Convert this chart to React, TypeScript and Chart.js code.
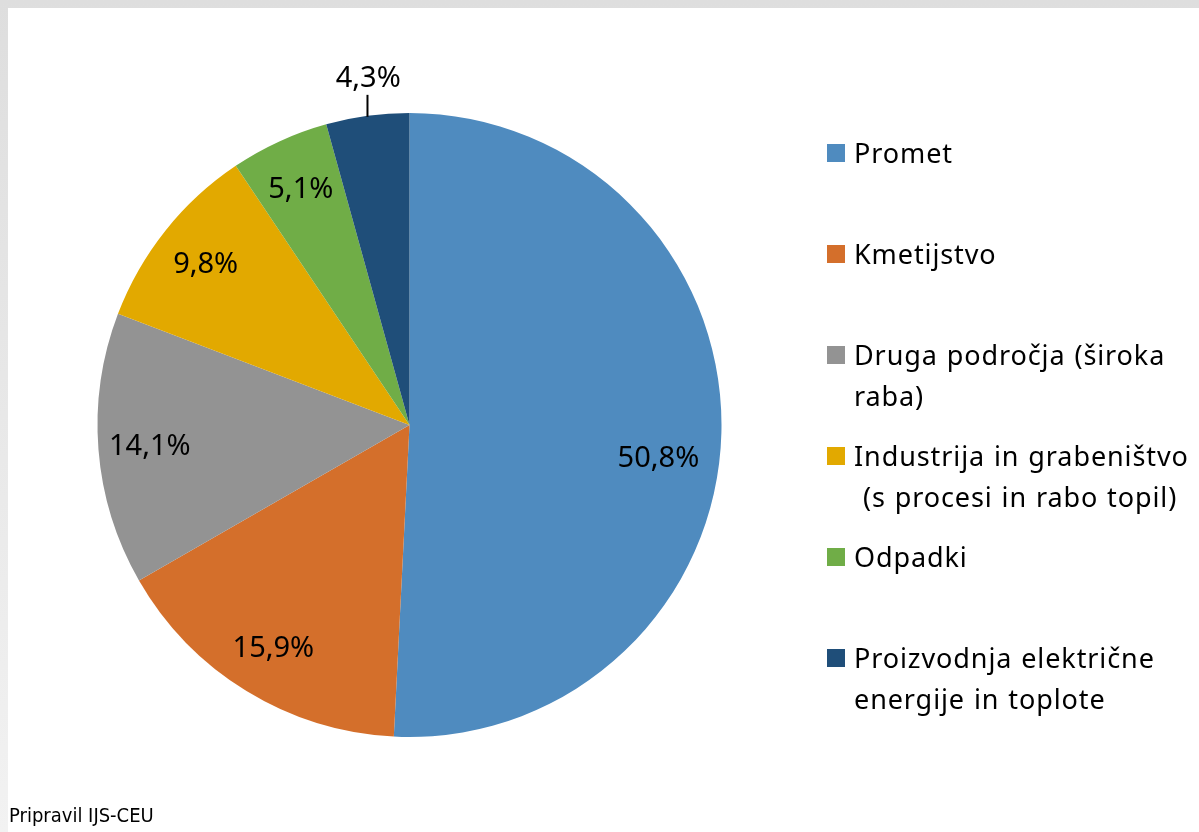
import React, { useEffect, useRef } from "react";
import { Chart, registerables } from "chart.js";

Chart.register(...registerables);

const categories = [
  "Promet",
  "Kmetijstvo",
  "Druga področja (široka raba)",
  "Industrija in grabeništvo (s procesi in rabo topil)",
  "Odpadki",
  "Proizvodnja električne energije in toplote",
];
const legendLines = [
  ["Promet"],
  ["Kmetijstvo"],
  ["Druga področja (široka", "raba)"],
  ["Industrija in grabeništvo", " (s procesi in rabo topil)"],
  ["Odpadki"],
  ["Proizvodnja električne", "energije in toplote"],
];
const values = [50.8, 15.9, 14.1, 9.8, 5.1, 4.3];
const colors = ["#4f8bbf", "#d46f2b", "#939393", "#e2a900", "#70ad47", "#1f4e79"];
const footer = "Pripravil IJS-CEU";

const fmt = (v: number) => v.toFixed(1).replace(".", ",") + "%";

const labelPlugin = {
  id: "pieLabels",
  afterDatasetsDraw(chart: any) {
    const meta = chart.getDatasetMeta(0);
    const ctx = chart.ctx;
    ctx.save();
    ctx.font = "29px 'Noto Sans'";
    ctx.fillStyle = "#000";
    ctx.textAlign = "center";
    ctx.textBaseline = "alphabetic";
    const n = meta.data.length;
    meta.data.forEach((arc: any, i: number) => {
      const p = arc.getProps(["x", "y", "startAngle", "endAngle", "outerRadius"], true);
      const mid = (p.startAngle + p.endAngle) / 2;
      const outside = i === n - 1;
      const f = outside ? 1.125 : 0.835;
      let lx = p.x + Math.cos(mid) * p.outerRadius * f;
      let ly = p.y + Math.sin(mid) * p.outerRadius * f;
      if (i === 0) {
        lx += -11.5;
        ly += 25.5;
      }
      if (outside) {
        const ax = p.x + Math.cos(mid) * p.outerRadius;
        const ay = p.y + Math.sin(mid) * p.outerRadius;
        ctx.strokeStyle = "#000";
        ctx.lineWidth = 2;
        ctx.beginPath();
        ctx.moveTo(ax, ay + 1);
        ctx.lineTo(ax, ay - 21);
        ctx.stroke();
        lx += 6;
      }
      ctx.fillText(fmt(values[i]), lx, ly + 10);
    });
    ctx.restore();
  },
};

export default function App() {
  const ref = useRef<HTMLCanvasElement>(null);
  useEffect(() => {
    document.documentElement.style.overflow = "hidden";
    document.body.style.margin = "8px 0 0 8px";
    document.body.style.background = "linear-gradient(to bottom, #dedede, #f2f2f2)";
    const chart = new Chart(ref.current!, {
      type: "pie",
      data: {
        labels: categories,
        datasets: [
          {
            data: values,
            backgroundColor: colors,
            borderWidth: 0,
          },
        ],
      },
      options: {
        animation: false,
        responsive: false,
        maintainAspectRatio: false,
        layout: { padding: { left: 89.5, top: 105, right: 477.5, bottom: 95 } },
        plugins: {
          legend: { display: false },
          tooltip: { enabled: false },
        },
      },
      plugins: [labelPlugin],
    });
    return () => chart.destroy();
  }, []);

  return (
    <div
      style={{
        position: "relative",
        width: 1191,
        height: 824,
        background: "#fff",
        overflow: "hidden",
      }}
    >
      <canvas ref={ref} width={1191} height={824} style={{ display: "block" }} />
      {legendLines.map((lines, i) => (
        <div
          key={i}
          style={{
            position: "absolute",
            left: 819,
            top: 123.75 + 101 * i,
            display: "flex",
            alignItems: "flex-start",
          }}
        >
          <div
            style={{
              width: 18,
              height: 18,
              marginTop: 12.25,
              background: colors[i],
              flex: "none",
            }}
          />
          <div
            style={{
              marginLeft: 9,
              fontFamily: "'Noto Sans'",
              fontSize: 27,
              lineHeight: "41.5px",
              letterSpacing: 0.9,
              wordSpacing: 1,
              color: "#000",
              whiteSpace: "pre",
            }}
          >
            {lines.map((l, j) => (
              <div key={j}>{l}</div>
            ))}
          </div>
        </div>
      ))}
      <div
        style={{
          position: "absolute",
          left: 1,
          top: 795,
          fontFamily: "'DejaVu Sans Condensed', 'DejaVu Sans', sans-serif",
          fontStretch: "condensed",
          fontSize: 20,
          lineHeight: "24px",
          color: "#000",
          whiteSpace: "nowrap",
        }}
      >
        {footer}
      </div>
    </div>
  );
}
